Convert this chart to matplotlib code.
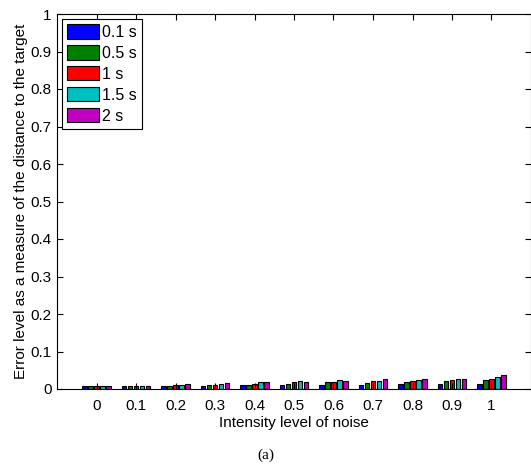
import numpy as np
import matplotlib.pyplot as plt

# уровни шума и ошибки для разных времён
noise = [0, 0.1, 0.2, 0.3, 0.4, 0.5, 0.6, 0.7, 0.8, 0.9, 1]
labels = ['0.1 s', '0.5 s', '1 s', '1.5 s', '2 s']
colors = ['#0000ff', '#007f00', '#ff0000', '#00bfbf', '#bf00bf']

err01 = [0.009, 0.008, 0.008, 0.009, 0.010, 0.011, 0.012, 0.012, 0.013, 0.013, 0.014]
err05 = [0.009, 0.008, 0.009, 0.011, 0.012, 0.014, 0.019, 0.017, 0.019, 0.021, 0.023]
err1 = [0.009, 0.008, 0.011, 0.012, 0.014, 0.018, 0.019, 0.021, 0.022, 0.024, 0.027]
err15 = [0.009, 0.008, 0.011, 0.013, 0.019, 0.021, 0.023, 0.022, 0.025, 0.028, 0.032]
err2 = [0.009, 0.008, 0.013, 0.015, 0.018, 0.019, 0.022, 0.027, 0.027, 0.028, 0.037]
series = [err01, err05, err1, err15, err2]

plt.rcParams['font.family'] = ['Liberation Sans', 'DejaVu Sans']
fig = plt.figure(figsize=(5.31, 4.75), dpi=100)
ax = fig.add_axes([57/531, 1-389/475, 474/531, 375/475])

x = np.array(noise)
step = 0.0152
for i in range(5):
    ax.bar(x + (i-2)*step, series[i], width=0.0125, color=colors[i],
           edgecolor='black', linewidth=0.8, label=labels[i])

ax.set_xlim(-0.1, 1.1)
ax.set_ylim(0, 1)
ax.set_xticks(noise)
ax.set_xticklabels(['0', '0.1', '0.2', '0.3', '0.4', '0.5', '0.6', '0.7', '0.8', '0.9', '1'])
ax.set_yticks(np.arange(0, 1.01, 0.1))
ax.set_yticklabels(['0', '0.1', '0.2', '0.3', '0.4', '0.5', '0.6', '0.7', '0.8', '0.9', '1'])
ax.tick_params(direction='in', top=True, right=True, labelsize=11, length=4, pad=4)
ax.tick_params(axis='x', pad=7)
ax.set_xlabel('Intensity level of noise', fontsize=11, labelpad=2)
ax.set_ylabel('Error level as a measure of the distance to the target', fontsize=11, labelpad=2)

leg = ax.legend(loc='upper left', fontsize=11.5, fancybox=False, edgecolor='black',
                handlelength=2.0, handleheight=1.0, handletextpad=0.15,
                labelspacing=0.33, borderpad=0.35, borderaxespad=0.3, framealpha=1)
leg.get_frame().set_linewidth(0.8)

fig.text(0.5, 1-455/475, '(a)', ha='center', va='center', fontsize=11,
         family=['Liberation Serif', 'DejaVu Serif'])

fig.savefig('out.png', dpi=100)
